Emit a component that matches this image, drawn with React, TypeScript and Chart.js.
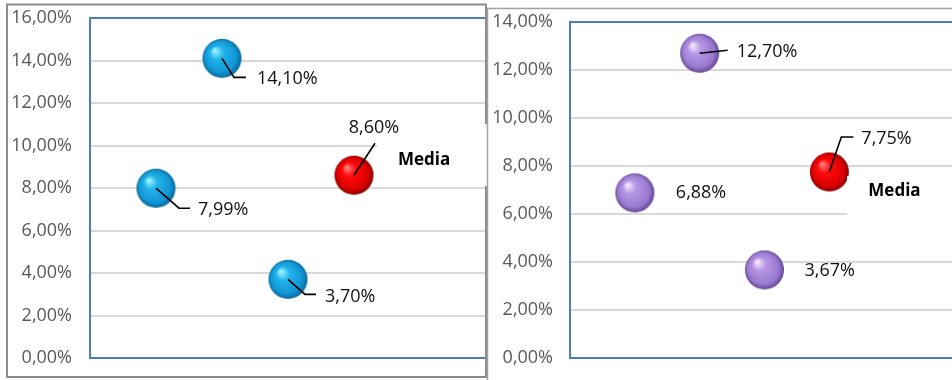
import React, { useEffect, useRef } from 'react';
import { Chart, registerables } from 'chart.js';

Chart.register(...registerables);

// ---------- data ----------
const leftCategories = ['1', '2', '3', 'Media'];
const leftValues = [7.99, 14.1, 3.7];
const leftMedia = 8.6;
const leftTicks = [0, 2, 4, 6, 8, 10, 12, 14, 16];

const rightCategories = ['1', '2', '3', 'Media'];
const rightValues = [6.88, 12.7, 3.67];
const rightMedia = 7.75;
const rightTicks = [0, 2, 4, 6, 8, 10, 12, 14];

const mediaLabel = 'Media';

const fmt = (v: number) => v.toFixed(2).replace('.', ',') + '%';

// ---------- styles ----------
const FONT = "'Open Sans', 'Segoe UI', sans-serif";
const SPHERE_R = 19.5;

type SphereColors = { hi: string; mid: string; deep: string; dark: string };
const BLUE: SphereColors = { hi: '#9ff3ff', mid: '#22b4ec', deep: '#1296d4', dark: '#0a679c' };
const RED: SphereColors = { hi: '#ff8080', mid: '#ff0a0a', deep: '#dc0000', dark: '#860000' };
const PURPLE: SphereColors = { hi: '#f5e8ff', mid: '#b696e4', deep: '#9a7ad0', dark: '#654594' };

type LabelLayout = { line: number[][]; tx: number; ty: number; align?: CanvasTextAlign };

const leftLabelLayout: LabelLayout[] = [
  { line: [[23, 20], [34, 20]], tx: 42, ty: 22 },
  { line: [[12, 19], [24, 19]], tx: 35, ty: 20 },
  { line: [[17, 15], [28, 15]], tx: 37, ty: 17 },
  { line: [[21, -32]], tx: 20, ty: -47, align: 'center' },
];
const leftMediaOffset = { tx: 44, ty: -15 };

const rightLabelLayout: LabelLayout[] = [
  { line: [], tx: 41, ty: 0 },
  { line: [[28, -3]], tx: 37, ty: -1 },
  { line: [], tx: 40, ty: 1 },
  { line: [[12, -35], [24, -35]], tx: 32, ty: -33 },
];
const rightMediaOffset = { tx: 39, ty: 19 };

function makeSphere(r: number, c: SphereColors): HTMLCanvasElement {
  const size = Math.ceil(r * 2) + 2;
  const cv = document.createElement('canvas');
  cv.width = size;
  cv.height = size;
  const g = cv.getContext('2d')!;
  const cx = size / 2;
  const cy = size / 2;
  const grad = g.createRadialGradient(cx - r * 0.38, cy - r * 0.42, r * 0.04, cx, cy, r);
  grad.addColorStop(0, c.hi);
  grad.addColorStop(0.32, c.mid);
  grad.addColorStop(0.8, c.deep);
  grad.addColorStop(1, c.dark);
  g.fillStyle = grad;
  g.beginPath();
  g.arc(cx, cy, r, 0, Math.PI * 2);
  g.fill();
  return cv;
}

type PanelCfg = {
  categories: string[];
  values: number[];
  media: number;
  ticks: number[];
  colors: SphereColors;
  layout: LabelLayout[];
  mediaOffset: { tx: number; ty: number };
  axisWidth: number;
  tickPadding: number;
  padding: { top: number; right: number; bottom: number; left: number };
  panelBorder: { x: number; y: number; w: number; h: number; color: string; width: number };
  drawRightBorder: boolean;
  coverBox: { x: number; y: number; w: number; h: number };
};

function buildChart(canvas: HTMLCanvasElement, cfg: PanelCfg) {
  const sphere = makeSphere(SPHERE_R, cfg.colors);
  const red = makeSphere(SPHERE_R, RED);
  const allValues = [...cfg.values, cfg.media];
  const data = allValues.map((v, i) => ({ x: i + 1, y: v }));
  const styles = allValues.map((_, i) => (i === cfg.values.length ? red : sphere));
  const yMax = cfg.ticks[cfg.ticks.length - 1];

  const plugin = {
    id: 'panelDeco',
    beforeDatasetsDraw(chart: any) {
      const { ctx, chartArea: a } = chart;
      ctx.save();
      ctx.strokeStyle = '#4a7ebb';
      ctx.lineWidth = 2;
      ctx.beginPath();
      if (cfg.drawRightBorder) {
        ctx.rect(a.left, a.top, a.right - a.left, a.bottom - a.top);
      } else {
        ctx.moveTo(a.right + 2, a.top);
        ctx.lineTo(a.left, a.top);
        ctx.lineTo(a.left, a.bottom);
        ctx.lineTo(a.right + 2, a.bottom);
      }
      ctx.stroke();
      const p = cfg.panelBorder;
      ctx.strokeStyle = p.color;
      ctx.lineWidth = p.width;
      ctx.strokeRect(p.x, p.y, p.w, p.h);
      ctx.restore();
    },
    afterDatasetsDraw(chart: any) {
      const { ctx } = chart;
      const meta = chart.getDatasetMeta(0);
      ctx.save();
      const b = cfg.coverBox;
      ctx.fillStyle = '#ffffff';
      ctx.fillRect(b.x, b.y, b.w, b.h);

      meta.data.forEach((pt: any, i: number) => {
        const lay = cfg.layout[i];
        const x = pt.x;
        const y = pt.y;
        if (lay.line.length) {
          ctx.strokeStyle = '#000000';
          ctx.lineWidth = 1.6;
          ctx.beginPath();
          ctx.moveTo(x, y);
          lay.line.forEach(([dx, dy]) => ctx.lineTo(x + dx, y + dy));
          ctx.stroke();
        }
        ctx.fillStyle = '#111111';
        ctx.font = `18px ${FONT}`;
        ctx.textAlign = lay.align || 'left';
        ctx.textBaseline = 'middle';
        ctx.fillText(fmt(allValues[i]), x + lay.tx, y + lay.ty);
        if (i === cfg.values.length) {
          ctx.font = `bold 17px ${FONT}`;
          ctx.textAlign = 'left';
          ctx.fillStyle = '#000000';
          ctx.fillText(mediaLabel, x + cfg.mediaOffset.tx, y + cfg.mediaOffset.ty);
        }
      });
      ctx.restore();
    },
  };

  return new Chart(canvas, {
    type: 'scatter',
    data: {
      labels: cfg.categories,
      datasets: [
        {
          data,
          pointStyle: styles as any,
          pointRadius: SPHERE_R,
          pointHoverRadius: SPHERE_R,
          showLine: false,
          clip: false,
        },
      ],
    },
    options: {
      animation: false,
      responsive: false,
      events: [],
      layout: { padding: cfg.padding, autoPadding: false },
      plugins: { legend: { display: false }, tooltip: { enabled: false } },
      scales: {
        x: { type: 'linear', min: 0, max: 6, display: false },
        y: {
          type: 'linear',
          min: 0,
          max: yMax,
          afterBuildTicks: (s: any) => {
            s.ticks = cfg.ticks.map((v) => ({ value: v }));
          },
          afterFit: (s: any) => {
            s.width = cfg.axisWidth;
            s.paddingTop = 0;
            s.paddingBottom = 0;
          },
          ticks: {
            padding: cfg.tickPadding,
            color: '#595959',
            font: { family: FONT, size: 18 },
            callback: (v: any) => fmt(Number(v)),
          },
          grid: { color: '#d9d9d9', lineWidth: 2, drawTicks: false },
          border: { display: false },
        },
      },
    },
    plugins: [plugin],
  } as any);
}

const leftCfg: PanelCfg = {
  categories: leftCategories,
  values: leftValues,
  media: leftMedia,
  ticks: leftTicks,
  colors: BLUE,
  layout: leftLabelLayout,
  mediaOffset: leftMediaOffset,
  axisWidth: 90,
  tickPadding: 18,
  padding: { top: 18, right: 2, bottom: 22, left: 0 },
  panelBorder: { x: 7, y: 4.5, w: 479, h: 372.5, color: '#8c8c8c', width: 2 },
  drawRightBorder: false,
  coverBox: { x: 377, y: 124, w: 120, h: 62 },
};

const rightCfg: PanelCfg = {
  categories: rightCategories,
  values: rightValues,
  media: rightMedia,
  ticks: rightTicks,
  colors: PURPLE,
  layout: rightLabelLayout,
  mediaOffset: rightMediaOffset,
  axisWidth: 84,
  tickPadding: 17,
  padding: { top: 22, right: 7, bottom: 22, left: 0 },
  panelBorder: { x: 1.5, y: 8.5, w: 600, h: 380, color: '#a3a3a3', width: 1.5 },
  drawRightBorder: true,
  coverBox: { x: 361, y: 176, w: 130, h: 42 },
};

export default function App() {
  const leftRef = useRef<HTMLCanvasElement>(null);
  const rightRef = useRef<HTMLCanvasElement>(null);

  useEffect(() => {
    const c1 = buildChart(leftRef.current!, leftCfg);
    const c2 = buildChart(rightRef.current!, rightCfg);
    return () => {
      c1.destroy();
      c2.destroy();
    };
  }, []);

  return (
    <div
      style={{
        position: 'fixed',
        left: 0,
        top: 0,
        width: 952,
        height: 380,
        overflow: 'hidden',
        background: '#ffffff',
      }}
    >
      <canvas
        ref={leftRef}
        width={488}
        height={380}
        style={{ position: 'absolute', left: 0, top: 0, width: 488, height: 380 }}
      />
      <canvas
        ref={rightRef}
        width={480}
        height={380}
        style={{ position: 'absolute', left: 486, top: 0, width: 480, height: 380 }}
      />
    </div>
  );
}
